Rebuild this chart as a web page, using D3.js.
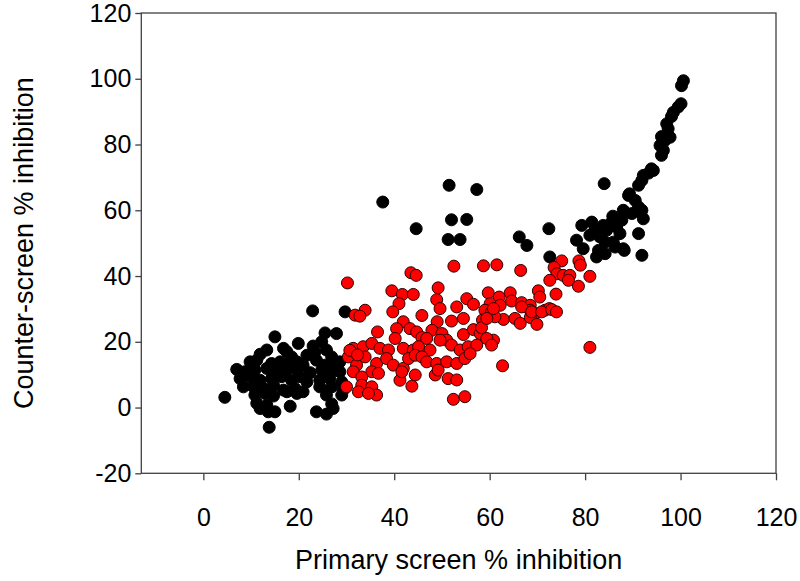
<!DOCTYPE html>
<html>
<head>
<meta charset="utf-8">
<script src="https://cdn.jsdelivr.net/npm/d3@7"></script>
<style>
  html, body { margin: 0; padding: 0; background: #fff; }
  svg { display: block; font-family: Arial, "Liberation Sans", sans-serif; }
</style>
</head>
<body>
<svg id="chart" width="800" height="581"></svg>
<script>
// counter-screen hits (red) and the rest (black), [primary %, counter %]
const lowBlack = [
  [15.0,21.5],[25.5,22.7],[27.9,22.5],[19.9,19.5],[23.0,18.7],[16.8,18.0],[24.8,20.0],[11.9,16.2],
  [13.3,17.5],[17.5,17.0],[18.5,15.4],[21.7,15.9],[23.4,16.9],[25.8,17.5],[26.9,15.4],[9.8,13.9],
  [11.2,14.4],[14.3,13.4],[16.1,13.9],[17.8,13.4],[19.6,13.9],[20.9,12.9],[23.7,14.4],[25.5,12.9],
  [27.2,13.4],[28.6,13.9],[7.0,11.6],[8.7,10.9],[10.8,11.4],[13.3,11.9],[15.4,10.9],[17.5,11.4],
  [19.6,11.6],[22.4,10.6],[24.8,11.4],[26.5,10.4],[28.6,10.9],[7.7,8.8],[9.8,9.4],[11.9,8.3],
  [14.3,8.8],[16.4,9.4],[18.5,8.3],[20.3,9.4],[21.7,7.8],[24.4,8.3],[26.5,8.8],[29.0,7.8],
  [8.4,6.3],[10.5,6.3],[12.6,5.8],[14.7,6.8],[16.8,5.3],[19.2,5.8],[20.9,4.8],[24.4,6.3],
  [26.9,6.3],[29.3,5.3],[4.5,3.1],[10.8,3.8],[12.9,4.3],[14.7,3.5],[17.5,4.8],[19.6,4.3],
  [25.8,3.8],[29.0,3.8],[11.2,1.3],[13.3,0.7],[18.2,0.4],[26.9,1.1],[11.9,-0.3],[13.6,-1.3],
  [15.0,-1.3],[23.7,-1.3],[25.8,-2.0],[27.2,-0.3],[13.8,-6.0],[22.9,29.4],[29.7,29.1]
];

const highBlack = [
  [100.6,99.4],[100.2,97.9],[100.1,92.4],[99.5,91.4],[98.5,89.8],[98.1,88.5],[97.1,86.3],[97.4,84.8],
  [96.0,82.4],[97.8,82.2],[96.7,81.2],[95.7,79.7],[96.4,78.2],[96.0,76.7],[94.3,72.1],[93.3,71.3],
  [92.2,70.6],[91.9,69.1],[91.2,67.6],[93.9,72.6],[89.1,64.5],[90.5,63.0],[91.2,61.0],[91.5,59.5],
  [92.2,57.4],[91.9,60.0],[88.0,60.0],[87.7,57.0],[87.3,52.9],[88.0,48.3],[91.2,52.9],[91.9,46.3],
  [84.0,68.1],[89.3,65.0],[89.8,59.0],[85.8,58.2],[85.6,56.4],[86.6,54.9],[85.9,50.3],[86.3,48.8],
  [88.2,47.8],[79.3,55.4],[81.4,56.4],[82.1,54.4],[83.8,55.4],[81.0,52.4],[83.1,51.9],[84.2,50.3],
  [82.8,47.8],[82.4,45.8],[84.2,46.8],[78.2,50.9],[79.6,48.3],[84.5,53.9],[72.4,54.4],[66.2,51.9],
  [67.8,49.3],[72.6,45.8],[57.3,66.3],[37.6,62.5],[51.5,67.6],[52.0,57.1],[55.2,57.2],[44.6,54.4],
  [51.3,51.1],[53.8,51.1]
];

const redHits = [
  [30.2,37.9],[43.5,41.0],[44.6,40.2],[52.5,43.0],[58.7,43.1],[61.5,43.4],[66.5,41.7],[39.5,35.5],
  [41.7,34.4],[44.0,34.4],[49.2,36.4],[59.7,34.9],[64.3,34.9],[70.2,35.5],[62.0,33.6],[48.9,32.8],
  [41.0,31.6],[55.2,33.1],[56.6,31.4],[60.1,31.6],[62.2,31.1],[64.6,32.4],[66.7,31.9],[68.5,31.1],
  [70.5,33.6],[33.9,29.6],[31.8,28.1],[32.8,27.8],[39.7,29.1],[45.8,28.0],[49.6,30.1],[53.1,30.6],
  [59.0,29.6],[60.4,29.1],[71.6,29.6],[72.5,30.1],[68.5,29.6],[69.5,28.6],[52.0,26.3],[54.5,27.1],
  [58.5,26.6],[62.9,26.8],[65.3,27.1],[66.4,25.6],[68.5,27.4],[69.9,25.3],[49.0,26.1],[41.9,26.1],
  [36.5,23.0],[40.5,24.0],[43.3,24.0],[44.7,23.0],[47.9,23.5],[50.0,22.5],[54.5,22.2],[56.6,23.7],
  [58.0,22.5],[58.3,24.3],[40.2,21.0],[45.8,21.3],[51.0,20.5],[60.8,20.5],[49.6,20.5],[46.8,21.0],
  [59.4,21.0],[31.4,18.0],[33.5,18.5],[35.3,19.5],[37.0,18.0],[38.8,17.5],[41.9,18.0],[44.0,17.5],
  [45.1,18.5],[47.5,17.5],[52.0,19.0],[53.8,17.5],[55.5,18.5],[57.3,19.0],[60.4,19.0],[30.4,15.4],
  [32.1,12.9],[33.9,15.4],[36.3,13.4],[38.4,14.9],[39.8,12.9],[41.9,11.9],[43.0,14.9],[44.4,15.9],
  [45.8,15.4],[46.8,13.9],[48.9,13.4],[51.0,13.9],[53.1,13.4],[54.8,14.9],[55.9,16.4],[35.3,10.9],
  [36.7,10.4],[41.2,8.3],[41.6,10.9],[44.4,9.9],[48.6,9.9],[49.2,11.4],[51.3,8.8],[53.1,8.4],
  [31.4,10.9],[33.2,9.3],[30.0,6.3],[33.2,6.8],[32.5,4.8],[35.3,6.3],[36.3,3.8],[34.6,4.3],
  [43.7,6.5],[52.4,2.5],[54.8,3.3],[62.7,12.7],[30.7,17.4],[32.3,16.0],
  [75.1,44.6],[78.7,44.6],[79.0,43.3],[73.5,42.6],[74.1,40.7],[72.6,38.7],[75.4,40.2],[76.8,40.2],
  [76.5,38.7],[78.6,36.9],[81.0,39.9],[73.9,34.5],[66.7,30.6],[68.8,29.1],[70.9,29.1],[73.0,29.8],
  [74.0,29.1],[61.1,27.6],[59.4,27.1],[60.8,30.1],[81.0,18.3]
];

const xTicks = [0, 20, 40, 60, 80, 100, 120];
const yTicks = [-20, 0, 20, 40, 60, 80, 100, 120];
const xDomain = [-13, 120];
const yDomain = [-20, 120];
const xTitle = "Primary screen % inhibition";
const yTitle = "Counter-screen % inhibition";

const svg = d3.select("#chart");
const FRAME = { left: 141.3, right: 776, top: 13, bottom: 473.3 };

const x = d3.scaleLinear().domain(xDomain).range([FRAME.left, FRAME.right]);
const y = d3.scaleLinear().domain(yDomain).range([FRAME.bottom, FRAME.top]);

// plain hyphen for negatives, like the original
const plain = d => String(d);

// axes: ticks outward, only left and bottom
const xAxis = svg.append("g")
  .attr("transform", `translate(0,${FRAME.bottom})`)
  .call(d3.axisBottom(x).tickValues(xTicks).tickFormat(plain).tickSize(7).tickSizeOuter(0).tickPadding(28));
const yAxis = svg.append("g")
  .attr("transform", `translate(${FRAME.left},0)`)
  .call(d3.axisLeft(y).tickValues(yTicks).tickFormat(plain).tickSize(6).tickSizeOuter(0).tickPadding(4));

[xAxis, yAxis].forEach(g => {
  g.select(".domain").remove();
  g.selectAll("line").attr("stroke", "#404040").attr("stroke-width", 1.3);
  g.selectAll("text")
    .attr("fill", "#000")
    .style("font-size", "25px")
    .style("font-family", "Arial, 'Liberation Sans', sans-serif");
});

// plot frame
svg.append("rect")
  .attr("x", x(xDomain[0]))
  .attr("y", y(yDomain[1]))
  .attr("width", x(xDomain[1]) - x(xDomain[0]))
  .attr("height", y(yDomain[0]) - y(yDomain[1]))
  .attr("fill", "none")
  .attr("stroke", "#404040")
  .attr("stroke-width", 1.3);

// black points first, red hits drawn on top
svg.append("g").selectAll("circle")
  .data(lowBlack.concat(highBlack))
  .join("circle")
    .attr("cx", d => x(d[0]))
    .attr("cy", d => y(d[1]))
    .attr("r", 6)
    .attr("fill", "#000")
    .attr("stroke", "#000")
    .attr("stroke-width", 1);

svg.append("g").selectAll("circle")
  .data(redHits)
  .join("circle")
    .attr("cx", d => x(d[0]))
    .attr("cy", d => y(d[1]))
    .attr("r", 6)
    .attr("fill", "#ff0000")
    .attr("stroke", "#2a0000")
    .attr("stroke-width", 1);

// axis titles
svg.append("text")
  .attr("x", (FRAME.left + FRAME.right) / 2)
  .attr("y", 569)
  .attr("text-anchor", "middle")
  .style("font-size", "27px")
  .text(xTitle);

svg.append("text")
  .attr("transform", `translate(33,${(FRAME.top + FRAME.bottom) / 2}) rotate(-90)`)
  .attr("text-anchor", "middle")
  .style("font-size", "27px")
  .text(yTitle);
</script>
</body>
</html>
